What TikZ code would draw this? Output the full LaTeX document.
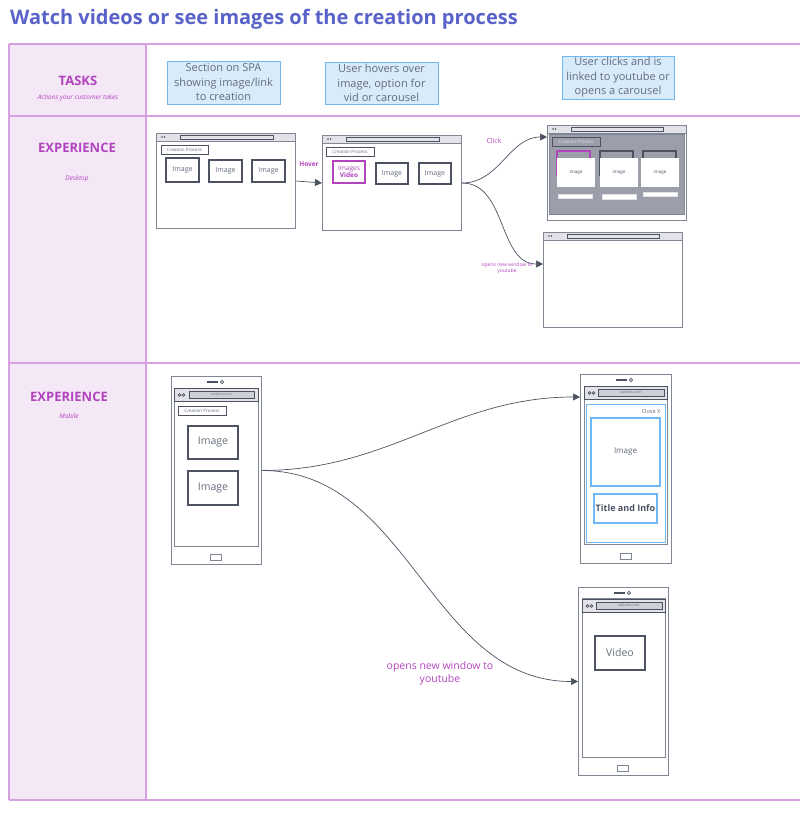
\documentclass[tikz,border=0pt]{standalone}
\usepackage{fontspec}
\setmainfont{Open Sans}
\usetikzlibrary{arrows.meta}
\definecolor{titleblue}{RGB}{88,98,200}
\definecolor{laneline}{RGB}{214,160,226}
\definecolor{lanefill}{RGB}{244,231,246}
\definecolor{lanetext}{RGB}{178,68,190}
\definecolor{notefill}{RGB}{216,235,250}
\definecolor{noteline}{RGB}{112,184,242}
\definecolor{notetext}{RGB}{100,108,124}
\definecolor{wireline}{RGB}{128,134,148}
\definecolor{wiredark}{RGB}{76,82,98}
\definecolor{barfill}{RGB}{226,226,232}
\definecolor{carfill}{RGB}{156,158,170}
\definecolor{panelblue}{RGB}{110,185,245}
\begin{document}
\begin{tikzpicture}[x=1pt,y=-1pt,
    lane/.style={draw=laneline,line width=1.3pt},
    head/.style={text=lanetext,font=\fontsize{13}{15}\selectfont\bfseries},
    sub/.style={text=lanetext,font=\fontsize{6.5}{8}\selectfont\itshape},
    note/.style={draw=noteline,fill=notefill,text=notetext,align=center,inner sep=0pt,line width=0.9pt,font=\fontsize{11}{14.5}\selectfont},
    win/.style={draw=wireline,fill=white,line width=1pt,inner sep=0pt,anchor=north west},
    bar/.style={draw=wiredark,fill=barfill,line width=0.8pt},
    addr/.style={draw=wiredark,fill=barfill!80!wireline,line width=0.6pt,inner sep=0pt,text=notetext,font=\fontsize{3.5}{4}\selectfont},
    tag/.style={draw=wiredark,line width=1pt,inner sep=0pt,text=notetext,font=\fontsize{4.5}{5}\selectfont},
    imgbox/.style={draw=wiredark,fill=white,line width=1.8pt,inner sep=0pt,text=notetext,font=\fontsize{7}{8}\selectfont},
    card/.style={fill=white,inner sep=0pt,text=wiredark,font=\fontsize{4.5}{5}\selectfont,minimum width=38pt,minimum height=29pt},
    flow/.style={draw=wiredark,line width=0.7pt,-{Triangle[length=7pt,width=7pt]}},
    lbl/.style={text=lanetext,align=center}
  ]
\useasboundingbox (0,0) rectangle (800,839);

% title
\node[anchor=base west,inner sep=0pt,text=titleblue,font=\fontsize{20}{24}\selectfont\bfseries] (title) at (10,24) {Watch videos or see images of the creation process};

% swimlanes
\fill[lanefill] (9,44) rectangle (146,800);
\draw[lane] (9,44) -- (800,44);
\draw[lane] (9,116) -- (800,116);
\draw[lane] (9,363) -- (800,363);
\draw[lane] (9,800) -- (800,800);
\draw[lane] (9,44) -- (9,800);
\draw[lane] (146,44) -- (146,800);

\node[head] (tasks) at (78,81) {TASKS};
\node[sub] (taskssub) at (78,98) {Actions your customer takes};
\node[head] (expdesk) at (77,148) {EXPERIENCE};
\node[sub] (desksub) at (77,179) {Desktop};
\node[head] (expmob) at (69,397) {EXPERIENCE};
\node[sub] (mobsub) at (69,416) {Mobile};

% tasks
\node[note,minimum width=113pt,minimum height=43pt] (t1) at (223.5,82.5) {Section on SPA\\showing image/link\\to creation};
\node[note,minimum width=113pt,minimum height=42pt] (t2) at (381.5,83) {User hovers over\\image, option for\\vid or carousel};
\node[note,minimum width=112pt,minimum height=43pt] (t3) at (618,77.5) {User clicks and is\\linked to youtube or\\opens a carousel};

% desktop: page
\node[win,minimum width=139pt,minimum height=95pt] (w1) at (156,133) {};
\draw[bar,draw=wireline] (156,133) rectangle (295,141);
\draw[wiredark,fill=barfill,line width=0.6pt] (180,135) rectangle (273,139);
\fill[wiredark] (162,137) circle (0.8) (164.5,137) circle (0.8);
\node[tag,minimum width=47pt,minimum height=9pt] (w1t) at (184.5,149.5) {Creation Process};
\node[imgbox,minimum width=33pt,minimum height=24pt] (w1a) at (182.5,170) {Image};
\node[imgbox,minimum width=33pt,minimum height=22pt] (w1b) at (225.5,171) {Image};
\node[imgbox,minimum width=33pt,minimum height=22pt] (w1c) at (268.5,171) {Image};

% desktop: hover
\node[win,minimum width=139pt,minimum height=95pt] (w2) at (322,135) {};
\draw[bar,draw=wireline] (322,135) rectangle (461,143);
\draw[wiredark,fill=barfill,line width=0.6pt] (346,137) rectangle (439,141);
\fill[wiredark] (328,139) circle (0.8) (330.5,139) circle (0.8);
\node[tag,minimum width=48pt,minimum height=9pt] (w2t) at (350,151.5) {Creation Process};
\node[imgbox,draw=lanetext,text=lanetext,align=center,minimum width=32pt,minimum height=22pt,font=\fontsize{6.5}{7}\selectfont] (w2a) at (349,172) {Images\\\textbf{Video}};
\node[imgbox,minimum width=32pt,minimum height=21pt] (w2b) at (392,173.5) {Image};
\node[imgbox,minimum width=32pt,minimum height=21pt] (w2c) at (435,173.5) {Image};

% desktop: carousel
\node[win,minimum width=139pt,minimum height=95pt] (w3) at (547,125) {};
\draw[bar,draw=wireline] (547,125) rectangle (686,133);
\draw[wiredark,fill=barfill,line width=0.6pt] (571,127) rectangle (663,131);
\fill[wiredark] (553,129) circle (0.8) (555.5,129) circle (0.8);
\draw[wireline,fill=carfill] (549,134) rectangle (684,214);
\node[tag,fill=carfill,text=barfill,minimum width=48pt,minimum height=9pt] (w3t) at (576,141.5) {Creation Process};
\draw[lanetext,line width=1.3pt] (557,151) rectangle (590,175);
\draw[wiredark,line width=1.3pt] (600,151) rectangle (633,175);
\draw[wiredark,line width=1.3pt] (643,151) rectangle (676,175);
\node[card] (c1) at (576,172.5) {image};
\node[card] (c2) at (619,172.5) {image};
\node[card] (c3) at (660,172) {image};
\node[fill=white,draw=barfill,inner sep=0pt,minimum width=34pt,minimum height=4pt] (c1i) at (575,196) {};
\node[fill=white,draw=barfill,inner sep=0pt,minimum width=34pt,minimum height=5pt] (c2i) at (619,196.5) {};
\node[fill=white,draw=barfill,inner sep=0pt,minimum width=34pt,minimum height=4pt] (c3i) at (660,194) {};

% desktop: new window
\node[win,minimum width=139pt,minimum height=95pt] (w4) at (543,232) {};
\draw[bar,draw=wireline] (543,232) rectangle (682,240);
\draw[wiredark,fill=barfill,line width=0.6pt] (567,234) rectangle (659,238);
\fill[wiredark] (549,236) circle (0.8) (551.5,236) circle (0.8);

% desktop arrows
\draw[flow] (w1.east) -- (w2.west);
\node[lbl,font=\fontsize{6.5}{7}\selectfont\bfseries] (hover) at (309,164) {Hover};
\draw[flow] (w2.east) to[out=0,in=180] ([yshift=-12pt]w3.north west);
\draw[flow] (w2.east) to[out=0,in=180] ([yshift=-32pt]w4.north west);
\node[lbl,font=\fontsize{7}{8}\selectfont] (click) at (494,141) {Click};
\node[lbl,font=\fontsize{5}{6}\selectfont] (deskyt) at (507,268) {opens new window to\\youtube};

% mobile: page
\node[win,minimum width=90pt,minimum height=188pt] (m1) at (171,376) {};
\fill[wiredark] (207,381) rectangle (218,383);
\draw[wiredark,line width=0.6pt] (222,382) circle (1.6);
\draw[wireline] (174,388) rectangle (258,546);
\draw[bar] (174,388) rectangle (258,401);
\draw[wiredark,line width=0.6pt] (179.5,395) circle (1.4) (183.5,395) circle (1.4);
\node[addr,minimum width=65pt,minimum height=7pt] (m1u) at (221.5,394.5) {website.com};
\node[tag,minimum width=48pt,minimum height=9pt] (m1t) at (202,410.5) {Creation Process};
\node[imgbox,minimum width=50pt,minimum height=33pt,font=\fontsize{10.5}{11}\selectfont] (m1a) at (213,442.5) {Image};
\node[imgbox,minimum width=50pt,minimum height=34pt,font=\fontsize{10.5}{11}\selectfont] (m1b) at (213,488) {Image};
\draw[wireline] (210,554) rectangle (221,560);

% mobile: carousel
\node[win,minimum width=91pt,minimum height=189pt] (m2) at (580,374) {};
\fill[wiredark] (616,379) rectangle (627,381);
\draw[wiredark,line width=0.6pt] (631,380) circle (1.6);
\draw[wireline] (584,386) rectangle (667,544);
\draw[bar] (584,386) rectangle (667,399);
\draw[wiredark,line width=0.6pt] (589.5,393) circle (1.4) (593.5,393) circle (1.4);
\node[addr,minimum width=66pt,minimum height=7pt] (m2u) at (631,392.5) {website.com};
\draw[panelblue,line width=1pt] (586,404) rectangle (665,542);
\node[text=notetext,font=\fontsize{5.5}{6}\selectfont] (close) at (651,411) {Close X};
\node[imgbox,draw=panelblue,line width=1.2pt,minimum width=69pt,minimum height=68pt,font=\fontsize{8}{9}\selectfont] (m2a) at (625.5,452) {Image};
\node[imgbox,draw=panelblue,line width=1.2pt,text=wiredark,minimum width=63pt,minimum height=29pt,font=\fontsize{9}{10}\selectfont\bfseries] (m2b) at (625.5,508.5) {Title and Info};
\draw[wireline] (620,553) rectangle (631,559);

% mobile: video
\node[win,minimum width=90pt,minimum height=188pt] (m3) at (578,587) {};
\fill[wiredark] (614,592) rectangle (625,594);
\draw[wiredark,line width=0.6pt] (629,593) circle (1.6);
\draw[wireline] (582,598) rectangle (665,757);
\draw[bar] (582,599) rectangle (665,612);
\draw[wiredark,line width=0.6pt] (587.5,606) circle (1.4) (591.5,606) circle (1.4);
\node[addr,minimum width=66pt,minimum height=7pt] (m3u) at (629,605.5) {website.com};
\node[imgbox,minimum width=50pt,minimum height=34pt,font=\fontsize{10.5}{11}\selectfont] (m3a) at (620,653) {Video};
\draw[wireline] (617,765) rectangle (628,771);

% mobile arrows
\draw[flow] (m1.east) to[out=0,in=180] ([yshift=-23pt]m2.north west);
\draw[flow] (m1.east) to[out=0,in=180] (m3.west);
\node[lbl,font=\fontsize{10.5}{13}\selectfont] (mobyt) at (440,673) {opens new window to\\youtube};
\end{tikzpicture}
\end{document}
